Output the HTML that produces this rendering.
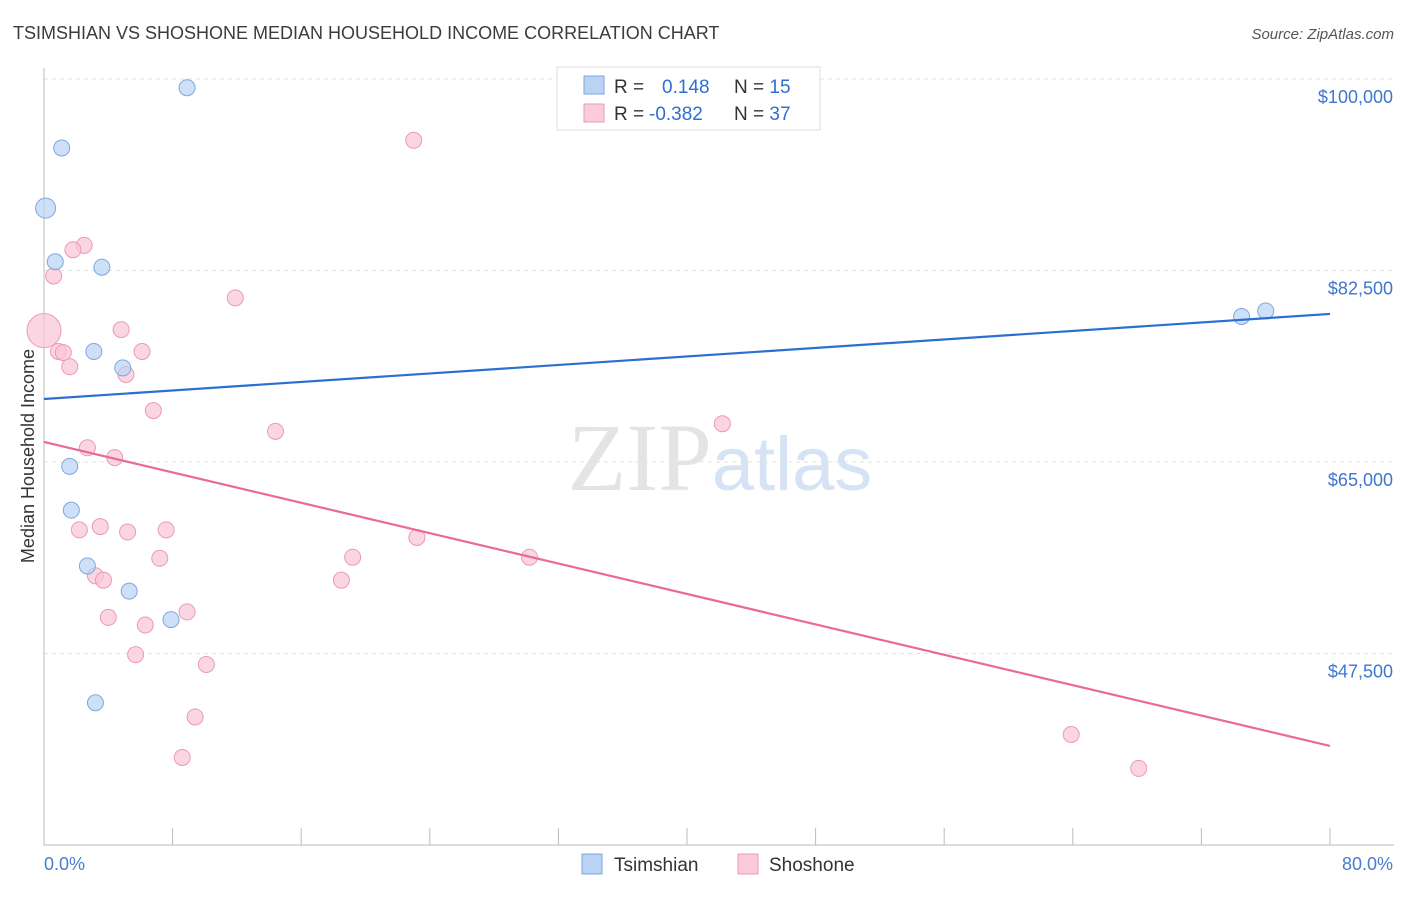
<!DOCTYPE html>
<html><head><meta charset="utf-8"><style>
body{margin:0;background:#fff;font-family:"Liberation Sans",sans-serif}
</style></head><body>
<svg id="chart" width="1406" height="892" xmlns="http://www.w3.org/2000/svg" font-family="Liberation Sans, sans-serif">
<text x="13" y="39" font-size="18" fill="#3c3c3c">TSIMSHIAN VS SHOSHONE MEDIAN HOUSEHOLD INCOME CORRELATION CHART</text>
<text x="1394" y="39" font-size="15" fill="#555" font-style="italic" text-anchor="end">Source: ZipAtlas.com</text>
<text x="720" y="490" font-size="96" text-anchor="middle" fill="#e4e4e4" font-family="Liberation Serif, serif">ZIP<tspan fill="#d5e3f5" font-family="Liberation Sans, sans-serif" font-size="76">atlas</tspan></text>
<g id="grid"></g>
<g id="axes"></g>
<g id="pts"></g>
<g id="trend"></g>
<text transform="translate(34,456) rotate(-90)" font-size="18" fill="#333" text-anchor="middle">Median Household Income</text>
<text x="44" y="870" font-size="18" fill="#4a7bd0">0.0%</text>
<text x="1393" y="870" font-size="18" fill="#4a7bd0" text-anchor="end">80.0%</text>
<g>
<rect x="557" y="67" width="263" height="63" fill="#fff" stroke="#ddd"/>
<rect x="584" y="76" width="20" height="18" fill="#b9d3f5" stroke="#7ea6e0"/>
<rect x="584" y="104" width="20" height="18" fill="#fbcbd9" stroke="#eb9ab3"/>
<text x="614" y="93" font-size="19" fill="#333">R = <tspan fill="#2f6fd0" x="662">0.148</tspan><tspan x="734" fill="#333">N = </tspan><tspan fill="#2f6fd0">15</tspan></text>
<text x="614" y="120" font-size="19" fill="#333">R = <tspan fill="#2f6fd0" x="649">-0.382</tspan><tspan x="734" fill="#333">N = </tspan><tspan fill="#2f6fd0">37</tspan></text>
</g>
<g><rect x="582" y="854" width="20" height="20" fill="#b9d3f5" stroke="#7ea6e0"/><text x="614" y="871" font-size="19" fill="#333">Tsimshian</text></g>
<g><rect x="738" y="854" width="20" height="20" fill="#fbcbd9" stroke="#eb9ab3"/><text x="769" y="871" font-size="19" fill="#333">Shoshone</text></g>
</svg>
<script>
const yTicks=[100000,82500,65000,47500];
const yTickLabels=["$100,000","$82,500","$65,000","$47,500"];
const tsX=[8.9,1.1,0.1,0.7,3.6,3.1,4.9,1.6,1.7,2.7,5.3,7.9,3.2,74.5,76.0];
const tsY=[99200,93700,88200,83300,82800,75100,73600,64600,60600,55500,53200,50600,43000,78300,78800];
const shX=[23.0,2.5,1.8,0.6,11.9,0.0,4.8,0.9,1.2,6.1,1.6,5.1,6.8,14.4,42.2,2.7,4.4,2.2,3.5,5.2,7.6,7.2,19.2,23.2,30.2,3.2,3.7,18.5,4.0,8.9,6.3,5.7,10.1,9.4,8.6,63.9,68.1];
const shY=[94400,84800,84400,82000,80000,77000,77100,75100,75000,75100,73700,73000,69700,67800,68500,66300,65400,58800,59100,58600,58800,56200,56300,58100,56300,54600,54200,54200,50800,51300,50100,47400,46500,41700,38000,40100,37000];
const tsTrend=[70760,78530];
const shTrend=[66830,39050];
const NS="http://www.w3.org/2000/svg";
const X=p=>44+p/80*1286;
const Y=v=>79+(100000-v)/17500*191.5;
function mk(tag,parent,attrs){const e=document.createElementNS(NS,tag);for(const k in attrs)e.setAttribute(k,attrs[k]);document.getElementById(parent).appendChild(e);return e;}
yTicks.forEach((t,i)=>{
 const l=mk('line','grid',{x1:44,x2:1394,y1:Y(t),y2:Y(t),stroke:'#e2e2e2','stroke-dasharray':'4,4'});
 
 
 const tx=mk('text','grid',{x:1393,y:Y(t)+24,'font-size':18,fill:'#3f76d0','text-anchor':'end'});
 tx.textContent=yTickLabels[i];
 
 
});
const ax=mk('line','axes',{x1:44,x2:44,y1:68,y2:845,stroke:'#bbb'});


const bx=mk('line','axes',{x1:44,x2:1394,y1:845,y2:845,stroke:'#bbb'});


for(let i=0;i<=10;i++){const t=mk('line','axes',{x1:X(i*8),x2:X(i*8),y1:828,y2:845,stroke:'#bbb'});
 
 }
shX.forEach((x,i)=>{const c=mk('circle','pts',{cx:X(x),cy:Y(shY[i]),r:x===0?17:8,fill:'#f9c5d5','fill-opacity':0.7,stroke:'#eb9ab3'});
 
 });
tsX.forEach((x,i)=>{const c=mk('circle','pts',{cx:X(x),cy:Y(tsY[i]),r:x<0.5?10:8,fill:'#b9d3f5','fill-opacity':0.7,stroke:'#7ea6e0'});
 
 });
const l1=mk('line','trend',{x1:X(0),x2:X(80),y1:Y(tsTrend[0]),y2:Y(tsTrend[1]),stroke:'#2a6fd2','stroke-width':2.2});


const l2=mk('line','trend',{x1:X(0),x2:X(80),y1:Y(shTrend[0]),y2:Y(shTrend[1]),stroke:'#e8699a','stroke-width':2.2});


</script>
</body></html>
